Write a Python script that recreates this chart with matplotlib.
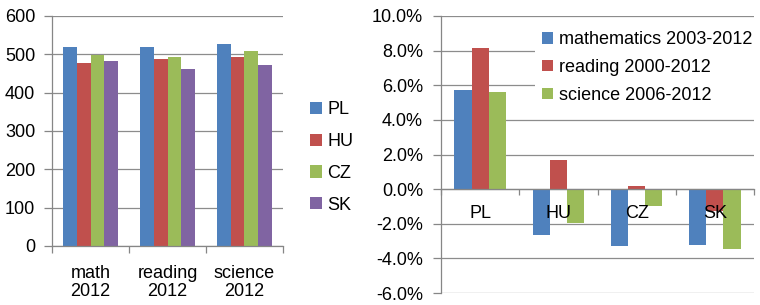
import numpy as np
import matplotlib
matplotlib.use("Agg")
import matplotlib.pyplot as plt

plt.rcParams['font.family'] = ['Liberation Sans', 'DejaVu Sans']
plt.rcParams['font.size'] = 13

# left chart: PISA 2012 scores
subjects = ["math\n2012", "reading\n2012", "science\n2012"]
countries = ["PL", "HU", "CZ", "SK"]
scores = {
    "PL": [518, 518, 526],
    "HU": [477, 488, 494],
    "CZ": [499, 493, 508],
    "SK": [482, 463, 471],
}

# right chart: change in score, %
change_labels = ["mathematics 2003-2012", "reading 2000-2012", "science 2006-2012"]
change = {
    "mathematics 2003-2012": [5.74, -2.66, -3.30, -3.24],
    "reading 2000-2012": [8.15, 1.68, 0.17, -1.27],
    "science 2006-2012": [5.62, -1.98, -0.98, -3.47],
}

colors = ["#4F81BD", "#C0504D", "#9BBB59", "#8064A2"]
grid_c = "#8c8c8c"
axis_c = "#868686"

fig = plt.figure(figsize=(7.6, 3.05), dpi=100)

# ---- left
ax1 = fig.add_axes([52/760, 1 - 246/305, 231/760, 230/305])
x = np.arange(len(subjects))
w = 0.18
for i, c in enumerate(countries):
    ax1.bar(x + (i - 1.5) * w, scores[c], w, color=colors[i], label=c, linewidth=0, zorder=2)
ax1.set_xlim(-0.5, len(subjects) - 0.5)
ax1.set_ylim(0, 600)
ax1.set_yticks(np.arange(0, 601, 100))
ax1.yaxis.grid(True, color=grid_c, linewidth=0.9, zorder=0)
ax1.set_axisbelow(True)
ax1.set_xticks(x)
ax1.set_xticklabels(subjects, linespacing=1.1)
ax1.set_xticks(np.arange(-0.5, len(subjects), 1.0), minor=True)
ax1.tick_params(axis='x', which='major', length=0, pad=13.5)
ax1.tick_params(axis='x', which='minor', length=5, color=axis_c, width=0.9)
ax1.tick_params(axis='y', length=6, color=axis_c, width=0.9, pad=6)
for s in ["top", "right"]:
    ax1.spines[s].set_visible(False)
for s in ["left", "bottom"]:
    ax1.spines[s].set_color(axis_c)
    ax1.spines[s].set_linewidth(0.9)

fig.legend(handles=ax1.containers, labels=countries, loc="upper left",
           bbox_to_anchor=(303/760, 1 - 94/305), frameon=False, borderaxespad=0,
           borderpad=0.4, handlelength=0.65, handleheight=0.65, handletextpad=0.3,
           labelspacing=0.82, fontsize=13)

# ---- right
ax2 = fig.add_axes([441/760, 1 - 293/305, 313/760, 277/305])
x2 = np.arange(len(countries))
w2 = 0.22
for i, lab in enumerate(change_labels):
    ax2.bar(x2 + (i - 1) * w2, change[lab], w2, color=colors[i], label=lab, linewidth=0, zorder=2)
ax2.set_xlim(-0.5, len(countries) - 0.5)
ax2.set_ylim(-6, 10)
yt = np.arange(-6, 10.1, 2)
ax2.set_yticks(yt)
ax2.set_yticklabels([f"{v:.1f}%" for v in yt])
ax2.yaxis.grid(True, color=grid_c, linewidth=0.9, zorder=0)
ax2.set_axisbelow(True)
ax2.spines["bottom"].set_position(("data", 0))
ax2.set_xticks([])
ax2.set_xticks(np.arange(-0.5, len(countries), 1.0), minor=True)
ax2.tick_params(axis='x', which='minor', length=4, color=axis_c, width=0.9)
ax2.tick_params(axis='y', length=6, color=axis_c, width=0.9, pad=7)
for s in ["top", "right"]:
    ax2.spines[s].set_visible(False)
for s in ["left", "bottom"]:
    ax2.spines[s].set_color(axis_c)
    ax2.spines[s].set_linewidth(0.9)
for i, c in enumerate(countries):
    ax2.text(x2[i], -1.42, c, ha="center", va="center", fontsize=13, zorder=5)

leg2 = ax2.legend(loc="upper left", bbox_to_anchor=(535/760, 1 - 24/305),
                  bbox_transform=fig.transFigure, frameon=True, borderaxespad=0,
                  borderpad=0.4, handlelength=0.6, handleheight=0.6, handletextpad=0.35,
                  labelspacing=0.6, fontsize=13, fancybox=False)
leg2.get_frame().set_edgecolor("none")
leg2.get_frame().set_facecolor("white")
leg2.get_frame().set_alpha(1)

fig.savefig("out.png", dpi=100)
